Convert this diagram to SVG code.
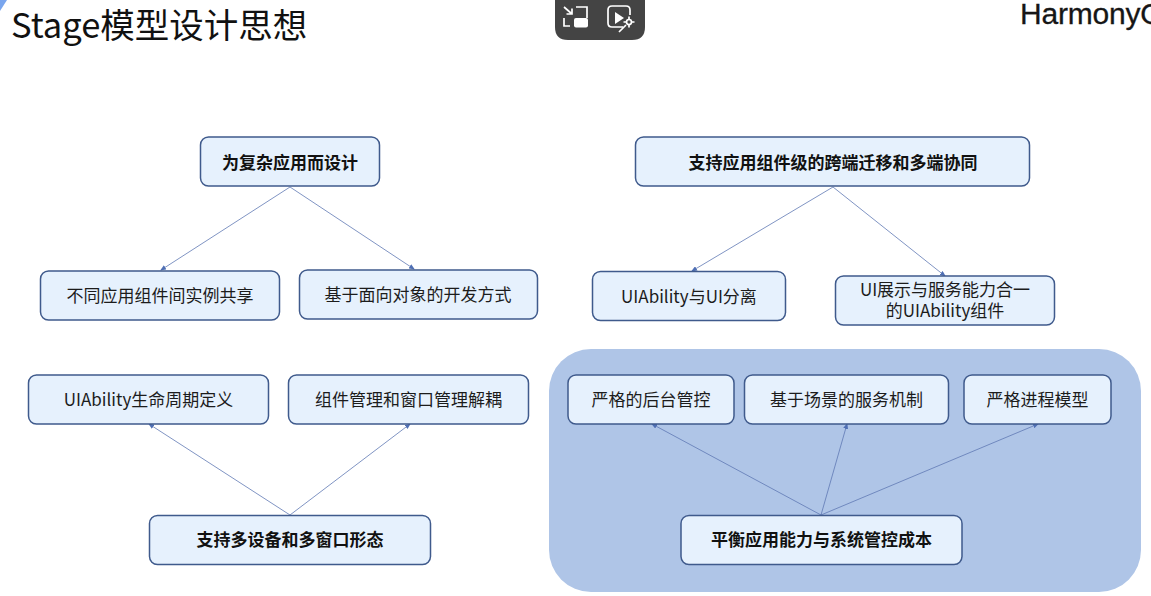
<svg xmlns="http://www.w3.org/2000/svg" width="1151" height="596" viewBox="0 0 1151 596">
<style>
text{font-family:"Noto Sans CJK SC","Noto Sans",sans-serif;fill:#1c1c1c;text-anchor:middle}
.b{fill:#e6f1fd;stroke:#3f5a8c;stroke-width:1.5}
.t{font-size:17px}
.h{font-size:17px;font-weight:700;fill:#111}
.c{fill:none;stroke:#5f79b4;stroke-width:.8;marker-end:url(#a)}
.i{fill:none;stroke:#fff;stroke-width:1.7}
</style>
<defs><marker id="a" markerWidth="6" markerHeight="5" refX="5" refY="2.500" orient="auto" markerUnits="userSpaceOnUse"><path d="M0 0L6 2.500L0 5Z" fill="#4f6fb4"/></marker></defs>
<rect width="1151" height="596" fill="#fff"/>
<path d="M0 0H7L0 11Z" fill="#7aa6ee"/>
<text x="11" y="38" style="text-anchor:start;font-size:34.500px;fill:#111">Stage模型设计思想</text>
<g id="toolbar"><path d="M555 0H645V27Q645 40 632 40H568Q555 40 555 27Z" fill="#444"/>
<path class="i" d="M564 7L572 14M572 8.500V14H566.500M576 7H587V18M570 26H564V18"/><rect x="574" y="18" width="14" height="9.500" rx="2" fill="#fff"/>
<path class="i" d="M623 27H612Q608 27 608 23V10Q608 6 612 6H626Q630 6 630 10V15"/><path d="M615 12L624 18L615 24Z" fill="#fff"/><circle cx="629" cy="22" r="2.500" class="i"/><path class="i" d="M629 16.500V19M629 25V27.500M623.500 22H626M632 22H634.500M626 25L619 32"/></g>
<text id="logo" x="1020" y="24" style="text-anchor:start;font-family:'Liberation Sans',sans-serif;font-size:30px;fill:#161616;stroke:#161616;stroke-width:.3;letter-spacing:-.2px">HarmonyO</text>
<rect id="panel" x="549" y="349" width="592" height="243" rx="42" fill="#afc5e7"/>
<g id="connectors">
<path class="c" d="M290 187L161 270"/><path class="c" d="M290 187L414 269"/>
<path class="c" d="M833 187L692 271"/><path class="c" d="M833 187L945 276"/>
<path class="c" d="M290 515L149 424"/><path class="c" d="M290 515L410 424"/>
<path class="c" d="M821 515L652 424"/><path class="c" d="M821 515L847 424"/><path class="c" d="M821 515L1038 424"/>
</g>
<g id="n1"><rect class="b" x="200.500" y="137" width="179" height="49" rx="8"/><text class="h" x="290" y="168.500">为复杂应用而设计</text></g>
<g id="n2"><rect class="b" x="635.500" y="137" width="394" height="49" rx="8"/><text class="h" x="833" y="168.500">支持应用组件级的跨端迁移和多端协同</text></g>
<g id="n3"><rect class="b" x="40.500" y="271" width="239" height="49" rx="8"/><text class="t" x="160" y="302">不同应用组件间实例共享</text></g>
<g id="n4"><rect class="b" x="299.500" y="270" width="238" height="49" rx="8"/><text class="t" x="418" y="301">基于面向对象的开发方式</text></g>
<g id="n5"><rect class="b" x="592.500" y="271.500" width="193" height="49" rx="8"/><text class="t" x="689" y="303">UIAbility与UI分离</text></g>
<g id="n6"><rect class="b" x="835.500" y="276" width="219" height="49" rx="8"/><text class="t" x="945"><tspan x="945" y="296">UI展示与服务能力合一</tspan><tspan x="945" y="317">的UIAbility组件</tspan></text></g>
<g id="n7"><rect class="b" x="28.500" y="375" width="240" height="49" rx="8"/><text class="t" x="148.500" y="406">UIAbility生命周期定义</text></g>
<g id="n8"><rect class="b" x="288.500" y="375" width="240" height="49" rx="8"/><text class="t" x="408.500" y="406">组件管理和窗口管理解耦</text></g>
<g id="n9"><rect class="b" x="149.500" y="515.500" width="281" height="49" rx="8"/><text class="h" x="290" y="546">支持多设备和多窗口形态</text></g>
<g id="n10"><rect class="b" x="568" y="375" width="166" height="49" rx="8"/><text class="t" x="651" y="406">严格的后台管控</text></g>
<g id="n11"><rect class="b" x="744.500" y="375" width="204" height="49" rx="8"/><text class="t" x="846.500" y="406">基于场景的服务机制</text></g>
<g id="n12"><rect class="b" x="964" y="375" width="147" height="49" rx="8"/><text class="t" x="1037.500" y="406">严格进程模型</text></g>
<g id="n13"><rect class="b" x="681" y="515.500" width="281" height="49" rx="8"/><text class="h" x="821.500" y="546">平衡应用能力与系统管控成本</text></g>
</svg>
